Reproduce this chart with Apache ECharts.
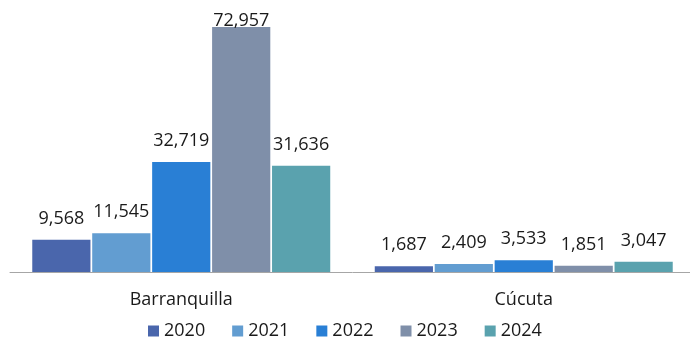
<!DOCTYPE html>
<html><head><meta charset="utf-8">
<script src="https://cdn.jsdelivr.net/npm/echarts@6/dist/echarts.min.js"></script>
<style>html,body{margin:0;padding:0;background:#fff;overflow:hidden}#c{width:700px;height:339px}</style>
</head><body><div id="c"></div>
<script>
const categories = ['Barranquilla', 'Cúcuta'];
const years = ['2020', '2021', '2022', '2023', '2024'];
const v2020 = [9568, 1687];
const v2021 = [11545, 2409];
const v2022 = [32719, 3533];
const v2023 = [72957, 1851];
const v2024 = [31636, 3047];
const seriesValues = [v2020, v2021, v2022, v2023, v2024];
const colors = ['#4A66AC', '#629DD1', '#297FD5', '#7F8FA9', '#5AA2AE'];
const font = '"Open Sans", sans-serif';

const chart = echarts.init(document.getElementById('c'));
chart.setOption({
  animation: false,
  grid: { left: 10, width: 685, top: 27, bottom: 67, containLabel: false },
  legend: {
    left: 143, top: 317, itemWidth: 11, itemHeight: 11, itemGap: 27,
    icon: 'rect',
    textStyle: { fontFamily: font, fontSize: 18, color: '#1a1a1a' },
    data: years
  },
  xAxis: {
    type: 'category', data: categories,
    axisLine: { lineStyle: { color: '#a6a6a6', width: 1 } },
    axisTick: { show: false },
    axisLabel: { fontFamily: font, fontSize: 18, color: '#1a1a1a', margin: 19 }
  },
  yAxis: { type: 'value', min: 0, max: 72957, show: false, splitLine: { show: false } },
  series: seriesValues.map((vals, i) => ({
    name: years[i], type: 'bar',
    barCategoryGap: '13%', barGap: '3%',
    itemStyle: { color: colors[i] },
    label: {
      show: true, position: 'top', distance: 12,
      fontFamily: font, fontSize: 18, color: '#1a1a1a',
      formatter: p => p.value.toLocaleString('en-US')
    },
    data: vals.map(v => v === 72957 ? { value: v, label: { distance: -3 } } : v)
  }))
});
</script></body></html>
